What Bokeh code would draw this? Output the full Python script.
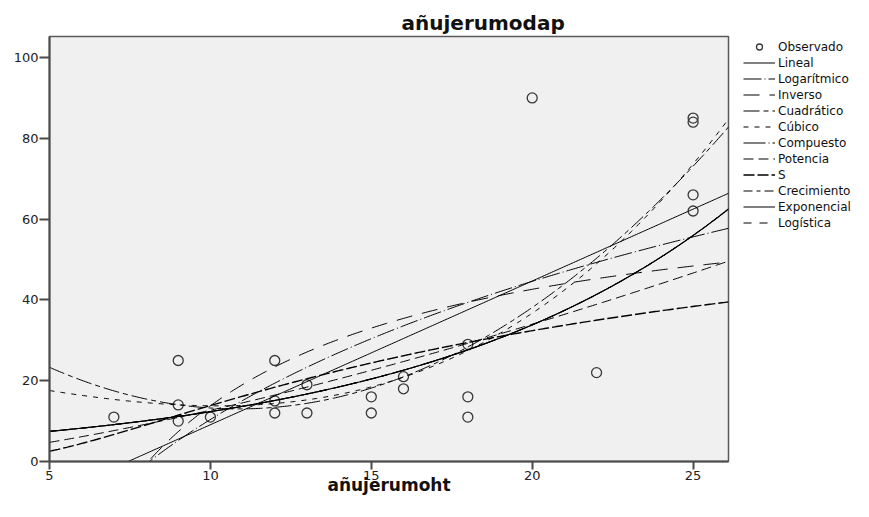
import numpy as np
from bokeh.plotting import figure
from bokeh.models import Range1d, FixedTicker, Legend, LegendItem
from bokeh.embed import file_html
from bokeh.resources import INLINE

# ---- data ----
x_obs = [7, 9, 9, 9, 10, 12, 12, 12, 13, 13, 15, 15, 16, 16, 18, 18, 18, 20, 22, 25, 25, 25, 25]
y_obs = [11, 25, 14, 10, 11, 25, 15, 12, 19, 12, 16, 12, 21, 18, 29, 16, 11, 90, 22, 85, 84, 66, 62]
x_ticks = [5, 10, 15, 20, 25]
y_ticks = [0, 20, 40, 60, 80, 100]
model_names = ["Lineal", "Logarítmico", "Inverso", "Cuadrático", "Cúbico", "Compuesto",
               "Potencia", "S", "Crecimiento", "Exponencial", "Logística"]
title_text = "añujerumodap"
x_label = "añujerumoht"

# ---- curve estimation (same models as the original) ----
xo = np.array(x_obs, dtype=float)
yo = np.array(y_obs, dtype=float)
grid = np.linspace(5, 26.1, 400)

lin = np.polyval(np.polyfit(xo, yo, 1), grid)
log_ = np.polyval(np.polyfit(np.log(xo), yo, 1), np.log(grid))
inv = np.polyval(np.polyfit(1 / xo, yo, 1), 1 / grid)
quad = np.polyval(np.polyfit(xo, yo, 2), grid)
cub = np.polyval(np.polyfit(xo, yo, 3), grid)
comp = np.exp(np.polyval(np.polyfit(xo, np.log(yo), 1), grid))
power = np.exp(np.polyval(np.polyfit(np.log(xo), np.log(yo), 1), np.log(grid)))
s_ = np.exp(np.polyval(np.polyfit(1 / xo, np.log(yo), 1), 1 / grid))
curves = [lin, log_, inv, quad, cub, comp, power, s_, comp, comp, comp]

dashes = ["solid", "18 3 1 3", "16 10", "16 4 5 4", "5 6", "22 3 1 3",
          "10 5", "11 3", "9 4 4 4", "solid", "8 8"]
widths = [1, 1, 1, 1, 1, 1, 1, 1.4, 1, 1.2, 1]

p = figure(frame_width=679, frame_height=425, output_backend="svg", toolbar_location=None,
           x_range=Range1d(5, 26.1), y_range=Range1d(0, 105.2),
           min_border_left=49, min_border_right=0, min_border_top=36, min_border_bottom=10,
           background_fill_color="#f0f0f0", border_fill_color="white")

p.title.text = title_text
p.title.text_font = "DejaVu Sans"
p.title.text_font_style = "bold"
p.title.text_font_size = "20px"
p.title.text_color = "#111111"
p.title.align = "left"
p.title.offset = 352
p.title.standoff = 3

p.xgrid.visible = False
p.ygrid.visible = False
p.outline_line_color = "#5a5a5a"
p.outline_line_width = 1.5

p.xaxis.ticker = FixedTicker(ticks=x_ticks)
p.yaxis.ticker = FixedTicker(ticks=y_ticks)
for ax in (p.xaxis, p.yaxis):
    ax.axis_line_color = "#4a4a4a"
    ax.axis_line_width = 2
    ax.major_tick_line_color = "#4a4a4a"
    ax.major_tick_line_width = 2
    ax.major_tick_in = 0
    ax.minor_tick_line_color = None
    ax.major_label_text_font = "DejaVu Sans"
    ax.major_label_text_font_size = "13px"
    ax.major_label_text_color = "#222222"
    ax.major_label_text_line_height = 1.0
p.yaxis.major_tick_out = 10
p.yaxis.major_label_standoff = 1
p.xaxis.major_tick_out = 8
p.xaxis.major_label_standoff = 1
p.xaxis.axis_label = x_label
p.xaxis.axis_label_text_font = "DejaVu Sans"
p.xaxis.axis_label_text_font_style = "bold"
p.xaxis.axis_label_text_font_size = "17px"
p.xaxis.axis_label_text_color = "#111111"
p.xaxis.axis_label_text_line_height = 1.0
p.xaxis.axis_label_standoff = -8

items = []
obs = p.scatter(x_obs, y_obs, marker="circle", size=10, fill_color=None,
                line_color="#383838", line_width=1.3)
items.append(LegendItem(label="Observado", renderers=[obs]))
for name, yy, d, w in zip(model_names, curves, dashes, widths):
    r = p.line(grid, yy, line_color="#000000", line_width=w, line_dash=d)
    items.append(LegendItem(label=name, renderers=[r]))

legend = Legend(items=items, location=(15, 231), orientation="vertical",
                glyph_width=32, glyph_height=15, label_height=15, spacing=1,
                padding=0, margin=0, label_standoff=3,
                border_line_alpha=0, background_fill_alpha=0,
                label_text_font="DejaVu Sans", label_text_font_size="12px",
                label_text_color="#111111")
p.add_layout(legend, "right")

open("out.html", "w").write(file_html(p, INLINE))
